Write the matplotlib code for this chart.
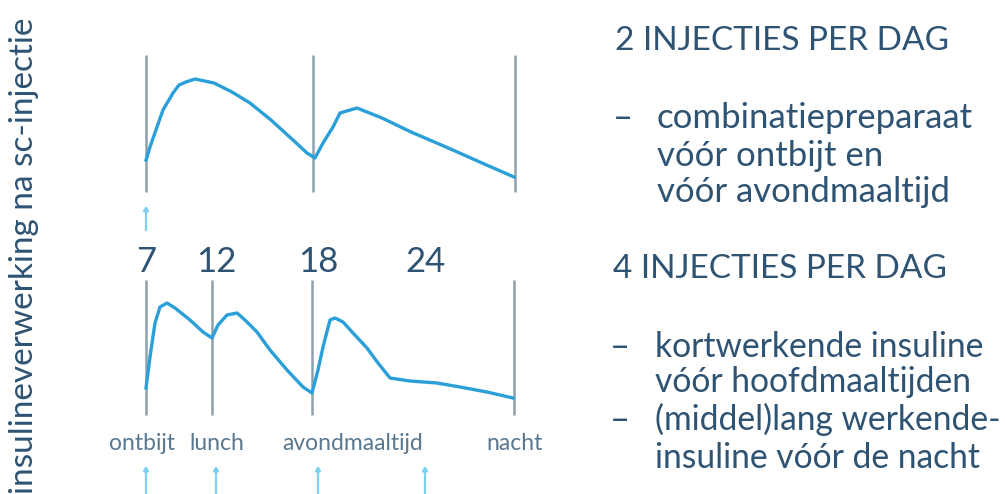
import matplotlib
matplotlib.use("Agg")
import matplotlib.pyplot as plt

# schematic time axis, 0 = ontbijt; y = insulin action above the baseline
top_x = [0, 4, 11, 17, 27, 33, 40, 49, 68, 86, 104, 125, 147, 161, 169,
         177, 187, 194, 211, 236, 265, 300, 336, 368]
top_y = [32, 45, 65, 82, 99, 107, 110, 113, 109, 100, 89, 72, 52, 39, 34,
         49, 65, 79, 84, 74, 60, 45, 29, 15]
top_events = [0, 167, 369]

bot_x = [0, 4, 9, 14, 21, 29, 44, 57, 66, 72, 81, 91, 99, 111, 124, 141,
         157, 166, 172, 177, 184, 189, 197, 207, 221, 232, 244, 264, 291,
         314, 341, 367]
bot_y = [27, 58, 92, 108, 112, 107, 95, 83, 77, 90, 100, 102, 95, 83, 65,
         45, 28, 22, 45, 68, 95, 97, 93, 82, 67, 52, 37, 34, 32, 28, 23, 17]
bot_events = [0, 66, 166, 368]

hour_labels = ["7", "12", "18", "24"]
hour_pos = [0, 70, 172, 279]
meal_labels = ["ontbijt", "lunch", "avondmaaltijd", "nacht"]
meal_pos = [-4, 71, 207, 369]

ylabel = "insulineverwerking na sc-injectie"
text_lines = [
    ("2 INJECTIES PER DAG", 615, 50, 24),
    ("–", 613, 128, 25),
    ("combinatiepreparaat", 657, 128, 25),
    ("vóór ontbijt en", 657, 166, 25),
    ("vóór avondmaaltijd", 657, 202, 25),
    ("4 INJECTIES PER DAG", 613, 278, 24),
    ("–", 610, 357, 25),
    ("kortwerkende insuline", 655, 357, 24.2),
    ("vóór hoofdmaaltijden", 655, 392, 24.2),
    ("–", 610, 430, 25),
    ("(middel)lang werkende-", 655, 430, 24.2),
    ("insuline vóór de nacht", 655, 468, 24.2),
]

plt.rcParams['font.family'] = ['Lato', 'DejaVu Sans']

W, H = 1005, 494
CURVE = "#2b9fd8"
VLINE = "#8da1ad"
TEXT = "#2e5373"
ARROW = "#7fd0f0"

fig = plt.figure(figsize=(W / 100, H / 100), dpi=100)
fig.patch.set_facecolor("white")

ax_top = fig.add_axes([146 / W, 1 - 192 / H, 369 / W, 137 / H])
ax_bot = fig.add_axes([146 / W, 1 - 415 / H, 369 / W, 135 / H])
ax_top.set_xlim(0, 369)
ax_top.set_ylim(0, 137)
ax_bot.set_xlim(0, 369)
ax_bot.set_ylim(0, 135)
for ax in (ax_top, ax_bot):
    ax.axis("off")

# vertical event lines
ax_top.vlines(top_events, 0, 137, color=VLINE, lw=1.8, clip_on=False)
ax_bot.vlines(bot_events, 0, 135, color=VLINE, lw=1.8, clip_on=False)

# insulin curves
ax_top.plot(top_x, top_y, color=CURVE, lw=2.4, clip_on=False,
            solid_joinstyle="round")
ax_bot.plot(bot_x, bot_y, color=CURVE, lw=2.4, clip_on=False,
            solid_joinstyle="round")

# injection arrows
arrow_kw = dict(arrowstyle="-|>,head_length=0.25,head_width=0.15",
                color=ARROW, lw=1.6)
ax_top.annotate("", xy=(0, -11), xytext=(0, -41), arrowprops=arrow_kw,
                annotation_clip=False)
for p in hour_pos:
    ax_bot.annotate("", xy=(p, -48), xytext=(p, -82), arrowprops=arrow_kw,
                    annotation_clip=False)

# hour numbers and meal names
for lab, p in zip(hour_labels, hour_pos):
    ax_bot.text(p, 143, lab, ha="center", va="baseline", fontsize=25,
                color=TEXT, clip_on=False)
for lab, p in zip(meal_labels, meal_pos):
    ax_bot.text(p, -35, lab, ha="center", va="baseline", fontsize=16.5,
                color="#5a7890", clip_on=False)

fig.text(24 / W, 1 - 256 / H, ylabel, rotation=90, ha="center",
         va="center", fontsize=24, color=TEXT)

for txt, x, y, fs in text_lines:
    fig.text(x / W, 1 - y / H, txt, ha="left", va="baseline", fontsize=fs,
             color=TEXT)

fig.savefig("out.png", dpi=100, facecolor="white")
